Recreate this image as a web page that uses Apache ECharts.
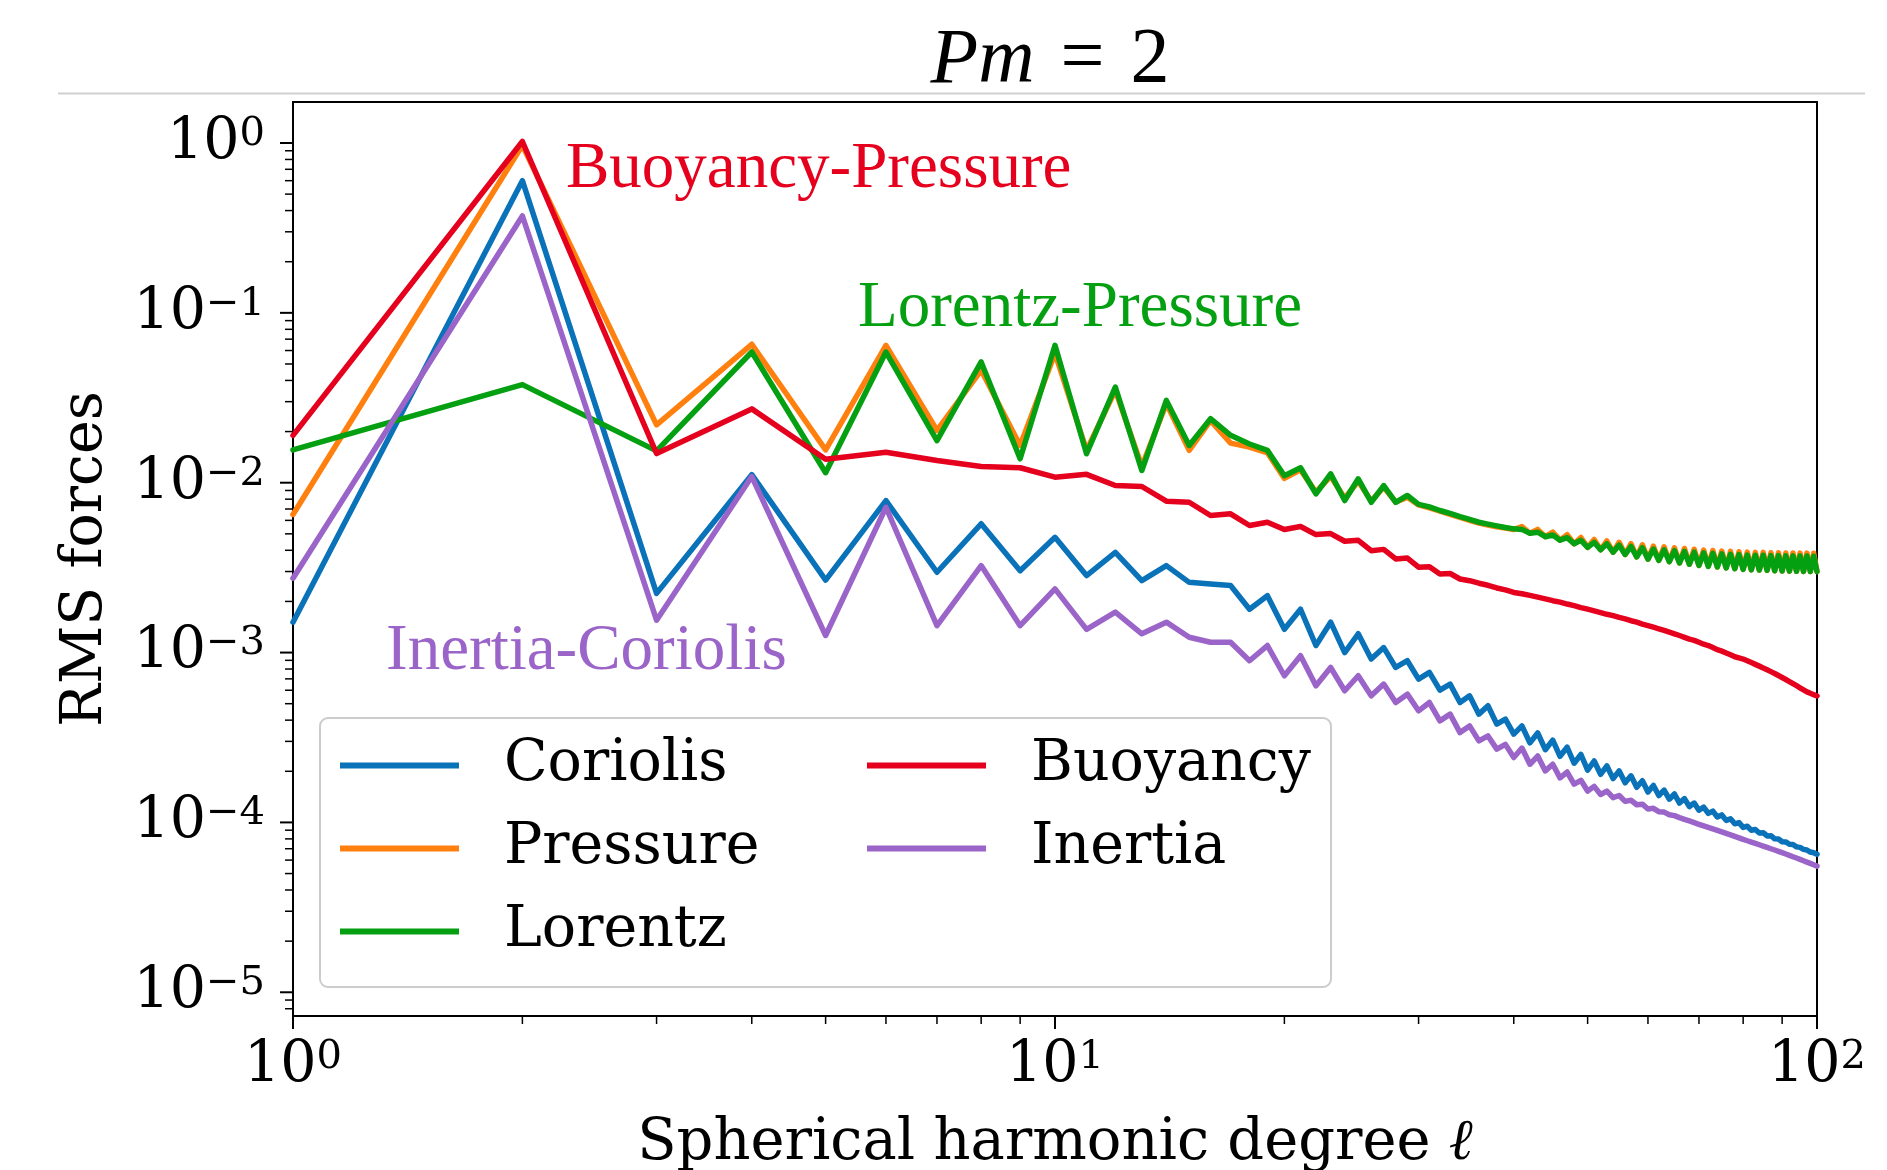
<!DOCTYPE html>
<html>
<head>
<meta charset="utf-8">
<script src="https://cdn.jsdelivr.net/npm/echarts@6/dist/echarts.min.js"></script>
<style>
  html, body { margin: 0; padding: 0; background: #ffffff; }
  #chart { width: 1887px; height: 1170px; }
</style>
</head>
<body>
<div id="chart"></div>
<script>
// Spherical harmonic degree l
const degrees = [
  1, 2, 3, 4, 5, 6, 7, 8, 9, 10,
  11, 12, 13, 14, 15, 16, 17, 18, 19, 20,
  21, 22, 23, 24, 25, 26, 27, 28, 29, 30,
  31, 32, 33, 34, 35, 36, 37, 38, 39, 40,
  41, 42, 43, 44, 45, 46, 47, 48, 49, 50,
  51, 52, 53, 54, 55, 56, 57, 58, 59, 60,
  61, 62, 63, 64, 65, 66, 67, 68, 69, 70,
  71, 72, 73, 74, 75, 76, 77, 78, 79, 80,
  81, 82, 83, 84, 85, 86, 87, 88, 89, 90,
  91, 92, 93, 94, 95, 96, 97, 98, 99, 100
];

// RMS force spectra, one value per degree
const coriolis = [
  0.00151, 0.60, 0.00223, 0.01115, 0.00267, 0.00785, 0.00297, 0.00573, 0.00303, 0.00477,
  0.00284, 0.00389, 0.00265, 0.00325, 0.00259, 0.00253, 0.00248, 0.00180, 0.00216, 0.00137,
  0.00180, 0.00110, 0.00151, 0.00100, 0.00129, 0.000916, 0.00107, 0.000817, 0.000895, 0.000698,
  0.000764, 0.000601, 0.000652, 0.000508, 0.000556, 0.000434, 0.000486, 0.000379, 0.000406, 0.000331,
  3.70e-4, 2.94e-4, 3.36e-4, 2.68e-4, 3.05e-4, 2.45e-4, 2.77e-4, 2.23e-4, 2.51e-4, 2.03e-4,
  2.30e-4, 1.92e-4, 2.15e-4, 1.81e-4, 2.01e-4, 1.71e-4, 1.88e-4, 1.61e-4, 1.76e-4, 1.51e-4,
  1.65e-4, 1.44e-4, 1.55e-4, 1.37e-4, 1.47e-4, 1.30e-4, 1.38e-4, 1.24e-4, 1.30e-4, 1.18e-4,
  1.23e-4, 1.13e-4, 1.166e-4, 1.076e-4, 1.107e-4, 1.028e-4, 1.05e-4, 9.81e-5, 9.97e-5, 9.35e-5,
  9.49e-5, 9.00e-5, 9.08e-5, 8.66e-5, 8.70e-5, 8.33e-5, 8.35e-5, 8.01e-5, 7.99e-5, 7.69e-5,
  7.68e-5, 7.44e-5, 7.41e-5, 7.18e-5, 7.13e-5, 6.94e-5, 6.88e-5, 6.69e-5, 6.63e-5, 6.49e-5
];

const pressure = [
  0.0065, 0.97, 0.0219, 0.0653, 0.0156, 0.0644, 0.0203, 0.0459, 0.01656, 0.0578,
  0.0155, 0.0350, 0.0125, 0.0292, 0.0155, 0.0232, 0.0171, 0.0162, 0.0150, 0.0106,
  0.0119, 0.0088, 0.0109, 0.0081, 0.0102, 0.0078, 0.0094, 0.0077, 0.0082, 0.0074,
  0.0071, 0.0068, 0.00652, 0.00625, 0.0060, 0.00578, 0.00563, 0.0055, 0.0054, 0.0053,
  5.52e-3, 5.04e-3, 5.31e-3, 4.81e-3, 5.12e-3, 4.59e-3, 4.94e-3, 4.37e-3, 4.76e-3, 4.16e-3,
  4.63e-3, 4.03e-3, 4.54e-3, 3.90e-3, 4.46e-3, 3.78e-3, 4.38e-3, 3.66e-3, 4.31e-3, 3.55e-3,
  4.23e-3, 3.49e-3, 4.19e-3, 3.43e-3, 4.14e-3, 3.37e-3, 4.10e-3, 3.31e-3, 4.06e-3, 3.26e-3,
  4.01e-3, 3.22e-3, 3.99e-3, 3.19e-3, 3.96e-3, 3.15e-3, 3.94e-3, 3.12e-3, 3.92e-3, 3.09e-3,
  3.90e-3, 3.07e-3, 3.89e-3, 3.06e-3, 3.89e-3, 3.05e-3, 3.87e-3, 3.03e-3, 3.87e-3, 3.02e-3,
  3.86e-3, 3.015e-3, 3.86e-3, 3.01e-3, 3.85e-3, 3.005e-3, 3.85e-3, 3.00e-3, 3.84e-3, 3.00e-3
];

const lorentz = [
  0.0156, 0.0378, 0.0154, 0.0588, 0.01145, 0.0588, 0.0177, 0.0514, 0.01383, 0.0644,
  0.0148, 0.0366, 0.0118, 0.0305, 0.01656, 0.0238, 0.0190, 0.0169, 0.0155, 0.0110,
  0.01225, 0.0086, 0.01128, 0.00785, 0.01054, 0.00767, 0.00962, 0.00767, 0.00841, 0.00745,
  0.0072, 0.00686, 0.0066, 0.00632, 0.00608, 0.00585, 0.0057, 0.00557, 0.00545, 0.00535,
  5.31e-3, 5.04e-3, 5.11e-3, 4.81e-3, 4.92e-3, 4.59e-3, 4.75e-3, 4.37e-3, 4.58e-3, 4.16e-3,
  4.45e-3, 4.03e-3, 4.37e-3, 3.90e-3, 4.29e-3, 3.78e-3, 4.21e-3, 3.66e-3, 4.14e-3, 3.55e-3,
  4.07e-3, 3.49e-3, 4.03e-3, 3.43e-3, 3.98e-3, 3.37e-3, 3.94e-3, 3.31e-3, 3.90e-3, 3.26e-3,
  3.86e-3, 3.22e-3, 3.84e-3, 3.19e-3, 3.81e-3, 3.15e-3, 3.79e-3, 3.12e-3, 3.77e-3, 3.09e-3,
  3.75e-3, 3.07e-3, 3.74e-3, 3.06e-3, 3.74e-3, 3.05e-3, 3.72e-3, 3.03e-3, 3.72e-3, 3.02e-3,
  3.71e-3, 3.015e-3, 3.71e-3, 3.01e-3, 3.70e-3, 3.005e-3, 3.70e-3, 3.00e-3, 3.69e-3, 3.00e-3
];

const buoyancy = [
  0.0190, 1.02, 0.01485, 0.0272, 0.01373, 0.0151, 0.0135, 0.01247, 0.01225, 0.01078,
  0.0112, 0.00962, 0.0095, 0.00778, 0.00767, 0.00641, 0.00656, 0.0056, 0.00585, 0.0053,
  0.00552, 0.00495, 0.00502, 0.00452, 0.00458, 0.00398, 0.00405, 0.00356, 0.0036, 0.00318,
  0.0032, 0.0029, 0.00292, 0.00271, 0.00265, 0.00256, 0.00249, 0.0024, 0.00234, 0.00226,
  0.00222, 0.00217, 0.00212, 0.00207, 0.00202, 0.00198, 0.00193, 0.00189, 0.00184, 0.0018,
  0.00176, 0.00172, 0.00168, 0.00165, 0.00161, 0.00158, 0.00154, 0.00151, 0.00147, 0.00144,
  0.00141, 0.00138, 0.00135, 0.00132, 0.00129, 0.00126, 0.00123, 0.0012, 0.00118, 0.00115,
  0.00112, 0.0011, 0.00107, 0.00104, 0.00102, 0.000995, 0.00097, 0.000945, 0.00093, 0.000916,
  0.000895, 0.000873, 0.000852, 0.000832, 0.000812, 0.000792, 0.000772, 0.000753, 0.000733, 0.000713,
  0.000694, 0.000675, 0.000656, 0.000638, 0.00062, 0.000603, 0.000587, 0.000576, 0.000565, 0.000555
];

const inertia = [
  0.00274, 0.372, 0.00155, 0.01087, 0.00126, 0.00717, 0.00144, 0.00325, 0.00144, 0.00237,
  0.00137, 0.00173, 0.00129, 0.00151, 0.00123, 0.00115, 0.00115, 0.000895, 0.00110, 0.00073,
  0.000958, 0.000637, 0.000817, 0.000596, 0.00073, 0.000556, 0.000652, 0.000508, 0.000569, 0.000454,
  0.000508, 0.000396, 0.000434, 0.000338, 0.00037, 0.000302, 0.000323, 0.00027, 0.000288, 0.000241,
  2.74e-4, 2.20e-4, 2.46e-4, 2.01e-4, 2.20e-4, 1.83e-4, 1.98e-4, 1.68e-4, 1.77e-4, 1.53e-4,
  1.63e-4, 1.46e-4, 1.53e-4, 1.40e-4, 1.44e-4, 1.33e-4, 1.35e-4, 1.27e-4, 1.28e-4, 1.20e-4,
  1.21e-4, 1.157e-4, 1.15e-4, 1.109e-4, 1.096e-4, 1.067e-4, 1.043e-4, 1.02e-4, 9.97e-5, 9.75e-5,
  9.55e-5, 9.36e-5, 9.17e-5, 8.98e-5, 8.80e-5, 8.62e-5, 8.45e-5, 8.28e-5, 8.11e-5, 7.94e-5,
  7.80e-5, 7.66e-5, 7.53e-5, 7.39e-5, 7.26e-5, 7.13e-5, 7.00e-5, 6.88e-5, 6.76e-5, 6.64e-5,
  6.52e-5, 6.40e-5, 6.28e-5, 6.17e-5, 6.06e-5, 5.95e-5, 5.84e-5, 5.74e-5, 5.63e-5, 5.53e-5
];

// Tick positions (majors at powers of ten, minors between)
const xTicks = [1, 2, 3, 4, 5, 6, 7, 8, 9, 10, 20, 30, 40, 50, 60, 70, 80, 90, 100];
const yTicks = [
  8e-6, 9e-6,
  1e-5, 2e-5, 3e-5, 4e-5, 5e-5, 6e-5, 7e-5, 8e-5, 9e-5,
  1e-4, 2e-4, 3e-4, 4e-4, 5e-4, 6e-4, 7e-4, 8e-4, 9e-4,
  1e-3, 2e-3, 3e-3, 4e-3, 5e-3, 6e-3, 7e-3, 8e-3, 9e-3,
  1e-2, 2e-2, 3e-2, 4e-2, 5e-2, 6e-2, 7e-2, 8e-2, 9e-2,
  1e-1, 2e-1, 3e-1, 4e-1, 5e-1, 6e-1, 7e-1, 8e-1, 9e-1,
  1
];

const X_MIN = 1, X_MAX = 100;
const Y_MIN = 7.25e-6, Y_MAX = 1.743;

const COLORS = {
  Coriolis: '#0a72b8',
  Pressure: '#ff800e',
  Lorentz: '#05a012',
  Buoyancy: '#e5001e',
  Inertia: '#9a64c8'
};

const SERIF = 'DejaVu Serif';
const TIMES = 'Liberation Serif';

function isPow10(v) {
  const e = Math.log10(v);
  return Math.abs(e - Math.round(e)) < 1e-7;
}

function powLabel(v) {
  if (!isPow10(v)) return '';
  const e = Math.round(Math.log10(v));
  const exp = e < 0 ? '\u2212' + (-e) : String(e);
  return '{b|10}{s|' + exp + '}';
}

const POW_RICH = {
  b: { fontFamily: SERIF, fontSize: 57, lineHeight: 57, color: '#000', verticalAlign: 'middle' },
  s: { fontFamily: SERIF, fontSize: 40, lineHeight: 14, color: '#000', verticalAlign: 'top' }
};

function lineSeries(name, values) {
  return {
    type: 'line',
    name: name,
    data: degrees.map((l, i) => [l, values[i]]),
    showSymbol: false,
    symbol: 'none',
    clip: true,
    lineStyle: { width: 5.5, color: COLORS[name], cap: 'round', join: 'round' },
    itemStyle: { color: COLORS[name] },
    emphasis: { disabled: true },
    animation: false
  };
}

const legendCommon = {
  orient: 'vertical',
  top: 724,
  padding: 0,
  itemWidth: 119,
  itemHeight: 6,
  itemGap: 0,
  icon: 'rect',
  selectedMode: false,
  z: 10,
  textStyle: {
    fontFamily: SERIF,
    fontSize: 57,
    color: '#000',
    lineHeight: 73,
    padding: [10, 0, 0, 40]
  }
};

const chart = echarts.init(document.getElementById('chart'), null, { renderer: 'canvas' });

chart.setOption({
  animation: false,
  backgroundColor: '#ffffff',
  grid: {
    left: 293, top: 102, width: 1524, height: 914,
    show: true, borderColor: '#000', borderWidth: 2, backgroundColor: '#ffffff'
  },
  xAxis: {
    type: 'log',
    logBase: 10,
    min: X_MIN,
    max: X_MAX,
    axisLine: { show: true, onZero: false, lineStyle: { color: '#000', width: 2 } },
    axisTick: { show: false },
    minorTick: { show: false },
    splitLine: { show: false },
    axisLabel: { formatter: powLabel, margin: 22, rich: POW_RICH }
  },
  yAxis: {
    type: 'log',
    logBase: 10,
    min: Y_MIN,
    max: Y_MAX,
    axisLine: { show: true, onZero: false, lineStyle: { color: '#000', width: 2 } },
    axisTick: { show: false },
    minorTick: { show: false },
    splitLine: { show: false },
    axisLabel: { formatter: powLabel, margin: 28, rich: POW_RICH }
  },
  legend: [
    Object.assign({}, legendCommon, { left: 340, data: ['Coriolis', 'Pressure', 'Lorentz'] }),
    Object.assign({}, legendCommon, { left: 867, data: ['Buoyancy', 'Inertia'] })
  ],
  series: [
    lineSeries('Coriolis', coriolis),
    lineSeries('Pressure', pressure),
    lineSeries('Lorentz', lorentz),
    lineSeries('Buoyancy', buoyancy),
    lineSeries('Inertia', inertia),
    {
      // outward ticks on the bottom axis
      type: 'custom',
      name: 'x-ticks',
      silent: true,
      z: 6,
      data: xTicks.map(v => [v, Y_MIN]),
      renderItem: function (params, api) {
        const v = api.value(0);
        const p = api.coord([v, Y_MIN]);
        const major = isPow10(v);
        return {
          type: 'line',
          shape: { x1: p[0], y1: p[1], x2: p[0], y2: p[1] + (major ? 13 : 8) },
          style: { stroke: '#000', lineWidth: major ? 2 : 1.5 }
        };
      }
    },
    {
      // outward ticks on the left axis
      type: 'custom',
      name: 'y-ticks',
      silent: true,
      z: 6,
      data: yTicks.map(v => [X_MIN, v]),
      renderItem: function (params, api) {
        const v = api.value(1);
        const p = api.coord([X_MIN, v]);
        const major = isPow10(v);
        return {
          type: 'line',
          shape: { x1: p[0], y1: p[1], x2: p[0] - (major ? 13 : 8), y2: p[1] },
          style: { stroke: '#000', lineWidth: major ? 2 : 1.5 }
        };
      }
    }
  ],
  graphic: [
    {
      type: 'line', z: 1, silent: true,
      shape: { x1: 58, y1: 93.5, x2: 1865, y2: 93.5 },
      style: { stroke: '#d0d0d0', lineWidth: 2 }
    },
    {
      type: 'text', x: 1050, y: 61, z: 20, silent: true,
      style: {
        text: '{i|Pm}{r|\u2004=\u20042}',
        align: 'center', verticalAlign: 'middle',
        rich: {
          i: { fontFamily: TIMES, fontStyle: 'italic', fontSize: 78, lineHeight: 78, fill: '#000' },
          r: { fontFamily: TIMES, fontSize: 78, lineHeight: 78, fill: '#000' }
        }
      }
    },
    {
      type: 'text', x: 566, y: 170, z: 20, silent: true,
      style: {
        text: 'Buoyancy-Pressure', fontFamily: TIMES, fontSize: 65,
        fill: COLORS.Buoyancy, align: 'left', verticalAlign: 'middle'
      }
    },
    {
      type: 'text', x: 858, y: 309, z: 20, silent: true,
      style: {
        text: 'Lorentz-Pressure', fontFamily: TIMES, fontSize: 65,
        fill: COLORS.Lorentz, align: 'left', verticalAlign: 'middle'
      }
    },
    {
      type: 'text', x: 386, y: 652, z: 20, silent: true,
      style: {
        text: 'Inertia-Coriolis', fontFamily: TIMES, fontSize: 65,
        fill: COLORS.Inertia, align: 'left', verticalAlign: 'middle'
      }
    },
    {
      type: 'text', x: 86, y: 559, rotation: Math.PI / 2, z: 20, silent: true,
      style: {
        text: 'RMS forces', fontFamily: SERIF, fontSize: 57,
        fill: '#000', align: 'center', verticalAlign: 'middle'
      }
    },
    {
      type: 'text', x: 1055, y: 1144, z: 20, silent: true,
      style: {
        text: '{n|Spherical harmonic degree }{l|\u2113}',
        align: 'center', verticalAlign: 'middle',
        rich: {
          n: { fontFamily: SERIF, fontSize: 57.5, lineHeight: 58, fill: '#000' },
          l: { fontFamily: SERIF, fontStyle: 'italic', fontSize: 57.5, lineHeight: 58, fill: '#000' }
        }
      }
    },
    {
      type: 'rect', z: 2, silent: true,
      shape: { x: 320, y: 718, width: 1011, height: 269, r: 8 },
      style: { fill: 'rgba(255,255,255,0.85)', stroke: '#cccccc', lineWidth: 2 }
    }
  ]
});
</script>
</body>
</html>
